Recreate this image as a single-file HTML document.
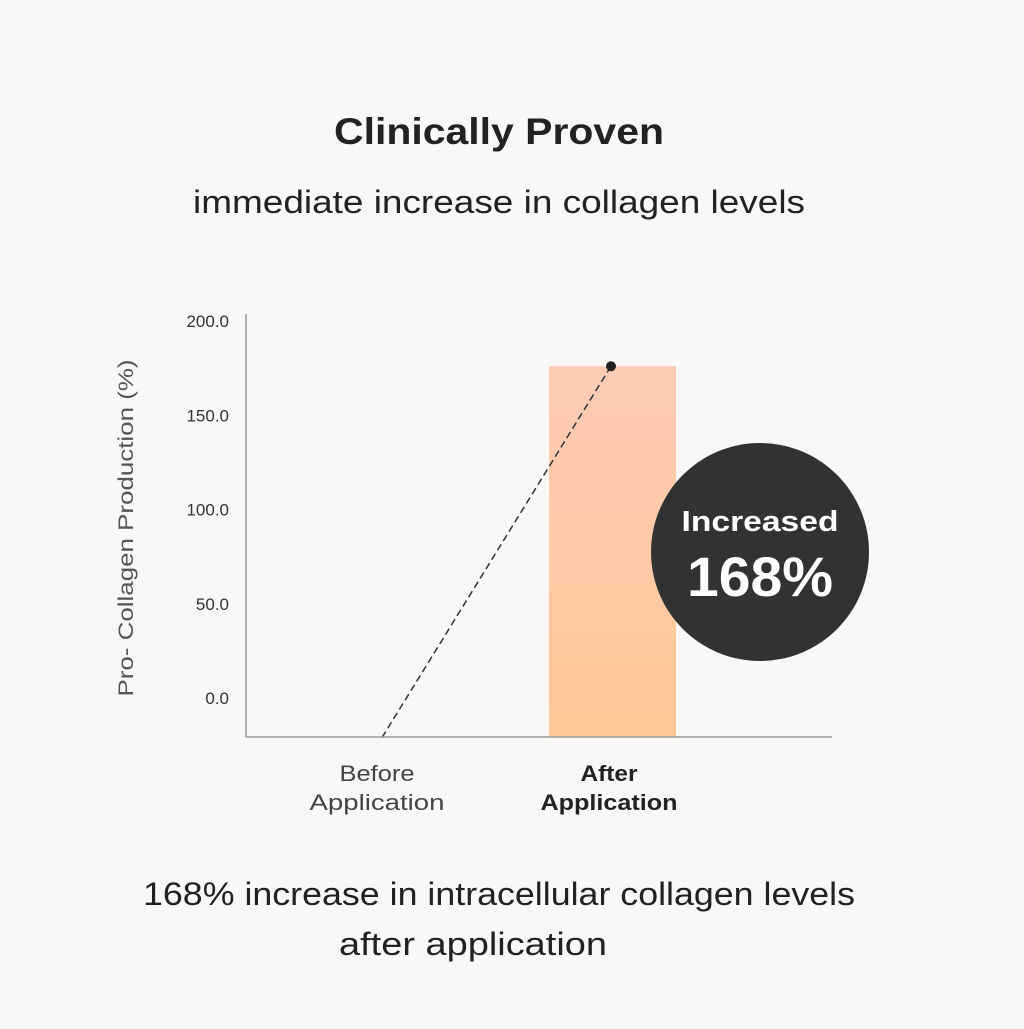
<!DOCTYPE html>
<html><head><meta charset="utf-8"><style>
html,body{margin:0;padding:0;background:#f9f8f6;}
body{width:1024px;height:1024px;overflow:hidden;font-family:"Liberation Sans",sans-serif;}
</style></head><body>
<svg id="chart" width="1024" height="1024" xmlns="http://www.w3.org/2000/svg">
<rect width="1024" height="1024" fill="#f9f8f6"/>
<defs><linearGradient id="bg" x1="0" y1="0" x2="0" y2="1"><stop offset="0" stop-color="#fdcab5"/><stop offset="1" stop-color="#fec897"/></linearGradient></defs>
<text x="499" y="144" text-anchor="middle" font-size="37" font-weight="bold" fill="#222" textLength="330" lengthAdjust="spacingAndGlyphs">Clinically Proven</text>
<text x="499" y="213" text-anchor="middle" font-size="32" fill="#222" textLength="612" lengthAdjust="spacingAndGlyphs">immediate increase in collagen levels</text>
<text transform="translate(133,528) rotate(-90)" text-anchor="middle" font-size="21" fill="#555" textLength="337" lengthAdjust="spacingAndGlyphs">Pro- Collagen Production (%)</text>
<g id="ticks"></g>
<g id="marks"></g>
<line x1="246" y1="314" x2="246" y2="737" stroke="#999" stroke-width="1.5"/>
<line x1="246" y1="737" x2="832" y2="737" stroke="#999" stroke-width="1.5"/>
<g>
<circle cx="760" cy="552" r="109" fill="#313232"/>
<text x="760" y="531" text-anchor="middle" font-size="29" font-weight="bold" fill="#fff" textLength="157" lengthAdjust="spacingAndGlyphs">Increased</text>
<text x="760" y="596" text-anchor="middle" font-size="56" font-weight="bold" fill="#fff" textLength="146" lengthAdjust="spacingAndGlyphs">168%</text>
</g>
<text x="377" y="781" text-anchor="middle" font-size="22" fill="#444"><tspan x="377" textLength="75" lengthAdjust="spacingAndGlyphs">Before</tspan><tspan x="377" dy="29" textLength="135" lengthAdjust="spacingAndGlyphs">Application</tspan></text>
<text x="609" y="781" text-anchor="middle" font-size="22" font-weight="bold" fill="#222"><tspan x="609" textLength="57" lengthAdjust="spacingAndGlyphs">After</tspan><tspan x="609" dy="29" textLength="137" lengthAdjust="spacingAndGlyphs">Application</tspan></text>
<text x="499" y="905" text-anchor="middle" font-size="32" fill="#222" textLength="712" lengthAdjust="spacingAndGlyphs">168% increase in intracellular collagen levels</text>
<text x="473" y="955" text-anchor="middle" font-size="32" fill="#222" textLength="268" lengthAdjust="spacingAndGlyphs">after application</text>
</svg>
<script>
const ticks=[0,50,100,150,200];
const tickLabels=["0.0","50.0","100.0","150.0","200.0"];
const barValues=[null,176];
const lineValues=[-21,176];
const categories=["Before Application","After Application"];
const NS="http://www.w3.org/2000/svg";
function y(v){return 698-(v/50)*94.25;}
const catX=[382,612];
function mk(t,a,p){const e=document.createElementNS(NS,t);for(const k in a)e.setAttribute(k,a[k]);p.appendChild(e);return e;}
const tg=document.getElementById('ticks');
ticks.forEach((t,i)=>{const e=mk('text',{x:229,y:y(t)+6,'text-anchor':'end','font-size':17,fill:'#333'},tg);


e.textContent=tickLabels[i];});
const mg=document.getElementById('marks');
barValues.forEach((v,i)=>{if(v==null)return;const r=mk('rect',{x:catX[i]-63,y:y(v),width:127,height:737-y(v),fill:'url(#bg)'},mg);

});
const l=mk('line',{x1:catX[0],y1:y(lineValues[0]),x2:catX[1]-1,y2:y(lineValues[1]),stroke:'#333','stroke-width':1.5,'stroke-dasharray':'7 4'},mg);


const c=mk('circle',{cx:catX[1]-1,cy:y(lineValues[1]),r:5,fill:'#222'},mg);


</script>
</body></html>
